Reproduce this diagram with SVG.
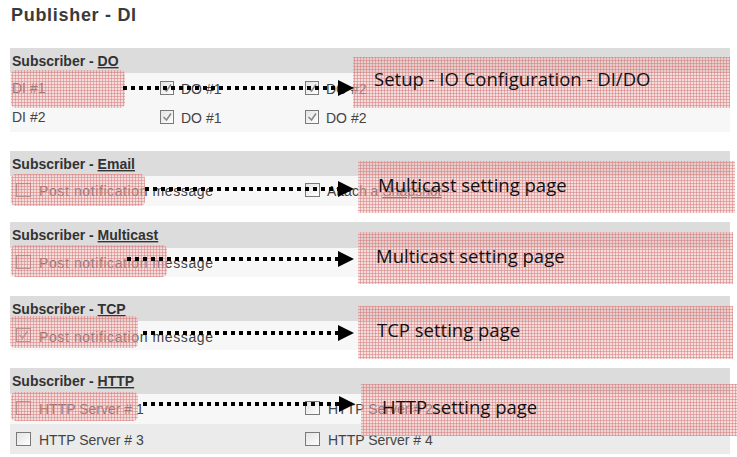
<svg xmlns="http://www.w3.org/2000/svg" width="737" height="457" viewBox="0 0 737 457">
<defs>
<pattern id="hatch" width="3" height="3" patternUnits="userSpaceOnUse">
<rect width="3" height="3" fill="#eebcbc" fill-opacity="0.45"/>
<rect width="3" height="1" fill="#d77878" fill-opacity="0.5"/>
<rect width="1" height="3" fill="#d77878" fill-opacity="0.5"/>
</pattern>
<linearGradient id="cbg" x1="0" y1="0" x2="1" y2="1">
<stop offset="0" stop-color="#e2e2e2"/>
<stop offset="1" stop-color="#ffffff"/>
</linearGradient>
<marker id="arr" markerUnits="userSpaceOnUse" markerWidth="17" markerHeight="16" refX="0" refY="8" orient="auto">
<path d="M0,0 L16,8 L0,16 Z" fill="#000"/>
</marker>
</defs>
<style>
.title{font-family:"Liberation Sans",Arial,sans-serif;font-weight:bold;font-size:18px;fill:#3a3a3a;letter-spacing:0.7px}
.hdr{fill:#dcdcdc}
.row{fill:#f7f7f7}
.row2{fill:#ebebeb}
.ht{font-family:"Liberation Sans",Arial,sans-serif;font-weight:bold;font-size:14px;fill:#333}
.u{text-decoration:underline}
.lbl{font-family:"Liberation Sans",Arial,sans-serif;font-size:14px;fill:#444}
.cb{fill:url(#cbg);stroke:#7a7a7a;stroke-width:1}
.ck{fill:none;stroke:#8a8a8a;stroke-width:1.6}
.pk{fill:url(#hatch)}
.cap{font-family:"Open Sans","Liberation Sans",sans-serif;font-size:18.5px;fill:#111}
.con{stroke:#000;stroke-width:4;stroke-dasharray:4 4;fill:none;marker-end:url(#arr)}
</style>
<rect width="737" height="457" fill="#fff"/>
<text class="title" x="11" y="21">Publisher - DI</text>

<g id="sub-do">
<rect class="hdr" x="10" y="48" width="720" height="25"/>
<rect class="row" x="10" y="73" width="720" height="59"/>
<text class="ht" x="12" y="66">Subscriber - <tspan class="u">DO</tspan></text>
<text class="lbl" x="12" y="93">DI #1</text>
<text class="lbl" x="12" y="122">DI #2</text>
<rect class="cb" x="160.5" y="81.5" width="13" height="13"/>
<path class="ck" d="M163.5,88 L166.5,91 L171,84.5"/>
<text class="lbl" x="181" y="94">DO #1</text>
<rect class="cb" x="305.5" y="81.5" width="13" height="13"/>
<path class="ck" d="M308.5,88 L311.5,91 L316,84.5"/>
<text class="lbl" x="326" y="94">DO #2</text>
<rect class="cb" x="160.5" y="110.5" width="13" height="13"/>
<path class="ck" d="M163.5,117 L166.5,120 L171,113.5"/>
<text class="lbl" x="181" y="123">DO #1</text>
<rect class="cb" x="305.5" y="110.5" width="13" height="13"/>
<path class="ck" d="M308.5,117 L311.5,120 L316,113.5"/>
<text class="lbl" x="326" y="123">DO #2</text>
</g>

<g id="sub-email">
<rect class="hdr" x="10" y="151" width="720" height="25"/>
<rect class="row" x="10" y="176" width="720" height="30"/>
<text class="ht" x="12" y="169">Subscriber - <tspan class="u">Email</tspan></text>
<rect class="cb" x="16.5" y="183.5" width="14" height="13"/>
<text class="lbl" x="39" y="196" textLength="174" lengthAdjust="spacing">Post notification message</text>
<rect class="cb" x="305.5" y="183.5" width="14" height="13"/>
<text class="lbl" x="327" y="196">Attach a <tspan class="u">Snapshot</tspan></text>
</g>

<g id="sub-multicast">
<rect class="hdr" x="10" y="222" width="720" height="26"/>
<rect class="row" x="10" y="248" width="720" height="29"/>
<text class="ht" x="12" y="240">Subscriber - <tspan class="u">Multicast</tspan></text>
<rect class="cb" x="16.5" y="255.5" width="14" height="13"/>
<text class="lbl" x="39" y="268" textLength="174" lengthAdjust="spacing">Post notification message</text>
</g>

<g id="sub-tcp">
<rect class="hdr" x="10" y="296" width="720" height="25"/>
<rect class="row" x="10" y="321" width="720" height="29"/>
<text class="ht" x="12" y="314">Subscriber - <tspan class="u">TCP</tspan></text>
<rect class="cb" x="16.5" y="328.5" width="14" height="13"/>
<path class="ck" d="M19.5,335 L22.5,338 L27.5,331.5"/>
<text class="lbl" x="39" y="342" textLength="174" lengthAdjust="spacing">Post notification message</text>
</g>

<g id="sub-http">
<rect class="hdr" x="10" y="368" width="720" height="26"/>
<rect class="row" x="10" y="394" width="720" height="30"/>
<rect class="row2" x="10" y="424" width="720" height="30"/>
<text class="ht" x="12" y="386">Subscriber - <tspan class="u">HTTP</tspan></text>
<rect class="cb" x="16.5" y="401.5" width="14" height="13"/>
<text class="lbl" x="39" y="414">HTTP Server # 1</text>
<rect class="cb" x="305.5" y="401.5" width="14" height="13"/>
<text class="lbl" x="328" y="414">HTTP Server # 2</text>
<rect class="cb" x="16.5" y="432.5" width="14" height="13"/>
<text class="lbl" x="39" y="445">HTTP Server # 3</text>
<rect class="cb" x="305.5" y="432.5" width="14" height="13"/>
<text class="lbl" x="328" y="445">HTTP Server # 4</text>
</g>

<g id="hl-di1"><rect class="pk" x="11" y="70" width="114" height="38" rx="5"/></g>
<g id="hl-email"><rect class="pk" x="11" y="174" width="134" height="32" rx="5"/></g>
<g id="hl-multicast"><rect class="pk" x="11" y="245" width="156" height="32" rx="5"/></g>
<g id="hl-tcp"><rect class="pk" x="10" y="316" width="128" height="32" rx="5"/></g>
<g id="hl-http"><rect class="pk" x="11" y="392" width="127" height="29" rx="5"/></g>

<g id="page-io">
<rect class="pk" x="353" y="57" width="377" height="51"/>
<text class="cap" x="374" y="86">Setup - IO Configuration - DI/DO</text>
</g>
<g id="page-email">
<rect class="pk" x="358" y="161" width="377" height="52"/>
<text class="cap" x="378" y="192">Multicast setting page</text>
</g>
<g id="page-multicast">
<rect class="pk" x="358" y="232" width="375" height="52"/>
<text class="cap" x="376" y="263">Multicast setting page</text>
</g>
<g id="page-tcp">
<rect class="pk" x="358" y="306" width="375" height="53"/>
<text class="cap" x="377" y="337">TCP setting page</text>
</g>
<g id="page-http">
<rect class="pk" x="361" y="384" width="376" height="52"/>
<text class="cap" x="382" y="414">HTTP setting page</text>
</g>

<g id="connectors">
<path class="con" d="M123,88 H338"/>
<path class="con" d="M145,189 H338"/>
<path class="con" d="M127,259 H338"/>
<path class="con" d="M143,333 H338"/>
<path class="con" d="M143,404 H339"/>
</g>
</svg>
